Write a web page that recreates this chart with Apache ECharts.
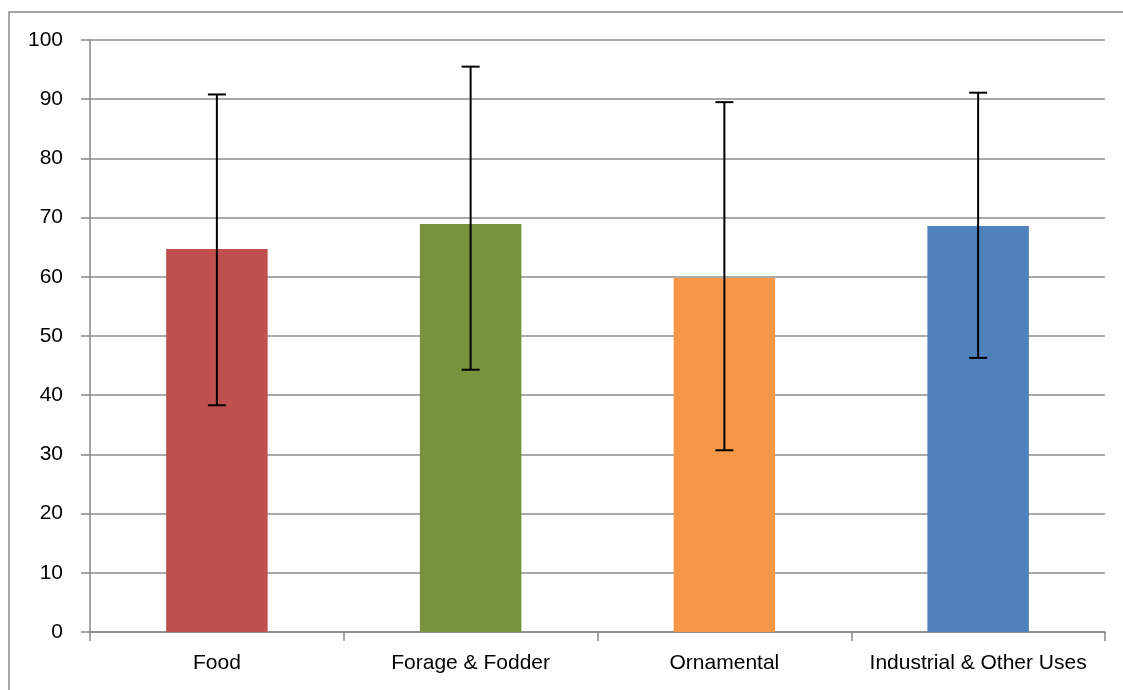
<!DOCTYPE html>
<html>
<head>
<meta charset="utf-8">
<script src="https://cdn.jsdelivr.net/npm/echarts@6/dist/echarts.min.js"></script>
<style>
html,body{margin:0;padding:0;background:#fff;}
#chart{width:1123px;height:690px;}
</style>
</head>
<body>
<div id="chart"></div>
<script>
const categories = ['Food', 'Forage & Fodder', 'Ornamental', 'Industrial & Other Uses'];
const means = [64.7, 68.9, 59.8, 68.6];
const errHigh = [90.8, 95.5, 89.5, 91.1];
const errLow = [38.3, 44.3, 30.7, 46.3];
const barColors = ['#C0504D', '#77933C', '#F79646', '#4F81BD'];
const yTicks = [0, 10, 20, 30, 40, 50, 60, 70, 80, 90, 100];

const chart = echarts.init(document.getElementById('chart'));
const errData = categories.map((c, i) => [i, errLow[i], errHigh[i]]);

chart.setOption({
  animation: false,
  backgroundColor: '#fff',
  graphic: [{
    type: 'rect',
    shape: { x: 9, y: 12, width: 1300, height: 900 },
    style: { fill: 'none', stroke: '#8a8a8a', lineWidth: 1.5 },
    silent: true, z: -1
  }],
  grid: { left: 90, right: 18, top: 40, bottom: 58 },
  xAxis: {
    type: 'category',
    data: categories,
    axisLine: { lineStyle: { color: '#868686', width: 1.5 } },
    axisTick: { show: true, interval: 0, length: 9, alignWithLabel: false, lineStyle: { color: '#868686', width: 1.5 } },
    axisLabel: { interval: 0, color: '#000', fontFamily: 'Liberation Sans, Arial, sans-serif', fontSize: 21, margin: 21 }
  },
  yAxis: {
    type: 'value',
    min: yTicks[0],
    max: yTicks[yTicks.length - 1],
    interval: 10,
    axisLine: { show: true, lineStyle: { color: '#868686', width: 1.5 } },
    axisTick: { show: true, length: 9, lineStyle: { color: '#868686', width: 1.5 } },
    axisLabel: { color: '#000', fontFamily: 'Liberation Sans, Arial, sans-serif', fontSize: 21, margin: 27 },
    splitLine: { show: true, lineStyle: { color: '#8c8c8c', width: 1.5 } }
  },
  series: [
    {
      type: 'bar',
      barWidth: '40%',
      data: means.map((v, i) => ({ value: v, itemStyle: { color: barColors[i] } })),
      z: 2
    },
    {
      type: 'custom',
      data: errData,
      z: 3,
      renderItem: function (params, api) {
        const x = api.value(0);
        const lo = api.coord([x, api.value(1)]);
        const hi = api.coord([x, api.value(2)]);
        const hw = 9;
        const style = { stroke: '#000', lineWidth: 2 };
        return {
          type: 'group',
          children: [
            { type: 'line', shape: { x1: hi[0], y1: hi[1], x2: lo[0], y2: lo[1] }, style: style },
            { type: 'line', shape: { x1: hi[0] - hw, y1: hi[1], x2: hi[0] + hw, y2: hi[1] }, style: style },
            { type: 'line', shape: { x1: lo[0] - hw, y1: lo[1], x2: lo[0] + hw, y2: lo[1] }, style: style }
          ]
        };
      }
    }
  ]
});
</script>
</body>
</html>
